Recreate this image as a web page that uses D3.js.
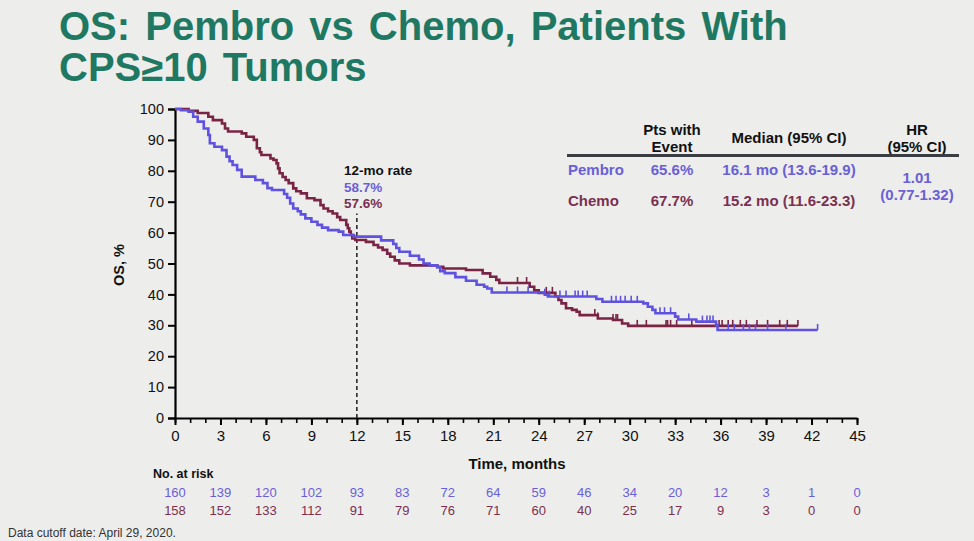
<!DOCTYPE html>
<html><head><meta charset="utf-8">
<script src="https://cdn.jsdelivr.net/npm/d3@7/dist/d3.min.js"></script>
<style>
html,body{margin:0;padding:0;background:#ededeb;}
svg{display:block;font-family:"Liberation Sans",Arial,sans-serif;}
</style></head>
<body>
<svg id="c" width="974" height="541"></svg>
<script>
// ---- data ----
const pembroTime = [0,0.4,0.9,1.2,1.5,1.9,2.2,2.3,2.6,3.1,3.4,3.6,3.8,4.1,4.4,5.3,5.8,6.1,6.4,7.2,7.4,7.6,7.8,8.1,8.3,8.6,9.0,9.4,9.7,10.1,10.8,11.1,11.8,13.6,14.4,14.6,14.8,15.5,16.1,16.4,16.8,17.3,17.5,17.8,18.5,19.2,19.9,20.4,20.6,20.9,24.4,24.6,27.8,28.2,30.9,31.2,31.5,31.7,33.0,33.2,34.4,35.7,35.8,42.4];
const pembroSurv = [100,99.6,99.1,97.5,95.9,93.7,91.6,88.9,87.8,86.7,84.6,83.1,81.9,80.3,78.1,77.0,76.0,74.4,73.8,72.5,71.3,69.4,67.8,66.9,65.9,64.6,63.5,62.5,61.6,60.8,60.3,59.2,58.7,57.5,56.3,55.0,53.8,52.5,51.3,50.0,49.4,48.8,47.5,46.9,45.6,44.4,43.1,42.5,41.9,40.6,39.9,39.3,38.5,37.6,37.1,36.0,35.0,33.9,32.8,31.9,31.2,30.1,28.5,28.5];
const chemoTime = [0,0.9,1.5,2.2,2.5,3.1,3.3,3.5,4.4,4.7,5.2,5.4,5.6,5.7,6.3,6.5,6.7,6.8,6.9,7.1,7.3,7.5,7.8,8.0,8.3,8.7,9.2,9.6,9.8,10.1,10.4,10.7,10.9,11.3,11.4,11.5,11.6,11.7,11.9,12.6,13.1,13.4,13.7,14.0,14.2,14.5,14.8,15.5,17.3,17.7,19.2,20.3,20.8,21.2,21.4,23.4,23.7,24.0,25.1,25.3,25.5,25.8,26.2,26.5,26.7,27.9,28.9,29.5,29.9,41.1];
const chemoSurv = [100,99.4,98.7,97.5,96.4,95.3,93.7,92.7,92.1,91.0,90.0,87.3,86.0,85.1,84.0,83.5,82.4,80.8,79.2,78.0,77.0,76.0,74.3,73.4,72.7,71.1,70.5,68.9,67.8,66.9,66.2,65.0,64.1,62.5,61.4,60.3,59.2,58.1,57.6,57.0,56.0,55.2,54.4,53.2,52.2,51.0,50.0,49.4,48.9,48.4,47.9,46.8,45.7,44.7,43.7,42.5,41.3,40.5,39.3,38.2,37.1,35.5,35.0,34.4,33.3,32.2,31.7,30.6,29.8,29.8];
const pembroCensor = [21.9,22.6,23.3,24.4,24.7,25.4,25.8,26.4,26.6,26.9,27.2,28.8,29.1,29.4,29.7,30.1,30.5,32.0,32.3,32.7,33.9,34.8,35.1,35.3,35.5,36.5,36.9,37.5,37.9,38.3,39.1,40.3,42.4];
const chemoCensor = [22.6,23.2,24.5,24.9,27.7,27.9,28.9,29.1,29.2,30.5,31.1,32.4,32.5,32.7,33.1,34.1,35.9,36.1,36.5,36.8,37.3,37.7,38.4,39.1,39.9,40.4,41.1];
const xTicks = [0,3,6,9,12,15,18,21,24,27,30,33,36,39,42,45];
const yTicks = [0,10,20,30,40,50,60,70,80,90,100];
const pembroAtRisk = [160,139,120,102,93,83,72,64,59,46,34,20,12,3,1,0];
const chemoAtRisk = [158,152,133,112,91,79,76,71,60,40,25,17,9,3,0,0];
const rateLabels = ["12-mo rate","58.7%","57.6%"];
const tableHead = [["Pts with","Event"],["Median (95% CI)"],["HR","(95% CI)"]];
const arms = ["Pembro","Chemo"];
const ptsEvent = ["65.6%","67.7%"];
const medians = ["16.1 mo (13.6-19.9)","15.2 mo (11.6-23.3)"];
const hrText = ["1.01","(0.77-1.32)"];

const BLUE = "#5f52e0", MAROON = "#7a2445", GREEN = "#1f7862";
const BLUE_T = "#6a60d6", MAROON_T = "#7a3050";

const svg = d3.select("#c");
const x = d3.scaleLinear().domain([0,45]).range([175,857]);
const y = d3.scaleLinear().domain([0,100]).range([418,109]);

// title
const tt = svg.append("g").attr("fill",GREEN).attr("font-weight","bold").attr("font-size",40).attr("word-spacing",4);
tt.append("text").attr("x",59).attr("y",40).text("OS: Pembro vs Chemo, Patients With");
tt.append("text").attr("x",59).attr("y",81).text("CPS\u226510 Tumors");

// axes
const ya = svg.append("g").attr("transform","translate(175,0)")
  .call(d3.axisLeft(y).tickValues(yTicks).tickSize(7).tickPadding(4));
ya.select(".domain").attr("stroke","#000").attr("stroke-width",2.2);
ya.selectAll(".tick line").attr("stroke","#000").attr("stroke-width",2);
ya.selectAll(".tick text").attr("font-size",14.5).attr("fill","#111").attr("font-family","Liberation Sans, Arial");

const xMinor = d3.range(0,46,1);
const xm = svg.append("g").attr("transform","translate(0,418)")
  .call(d3.axisBottom(x).tickValues(xMinor).tickSize(5).tickFormat(""));
xm.select(".domain").remove();
xm.selectAll(".tick line").attr("stroke","#000").attr("stroke-width",1.6);
const xa = svg.append("g").attr("transform","translate(0,418)")
  .call(d3.axisBottom(x).tickValues(xTicks).tickSize(7).tickPadding(5).tickSizeOuter(0));
xa.select(".domain").attr("stroke","#000").attr("stroke-width",2.2);
xa.selectAll(".tick line").attr("stroke","#000").attr("stroke-width",2);
xa.selectAll(".tick text").attr("font-size",15).attr("fill","#111").attr("font-family","Liberation Sans, Arial");

svg.append("text").attr("transform","translate(124,265) rotate(-90)").attr("text-anchor","middle")
  .attr("font-weight","bold").attr("font-size",14.5).attr("fill","#111").text("OS, %");
svg.append("text").attr("x",517).attr("y",469).attr("text-anchor","middle")
  .attr("font-weight","bold").attr("font-size",15).attr("fill","#111").text("Time, months");

// 12-mo dashed line
svg.append("line").attr("x1",x(12)).attr("x2",x(12)).attr("y1",y(0)).attr("y2",y(66.2))
  .attr("stroke","#111").attr("stroke-width",1.4).attr("stroke-dasharray","4,3");
const rl = svg.append("g").attr("font-weight","bold").attr("font-size",13.5);
rl.append("text").attr("x",344).attr("y",175).attr("fill","#111").text(rateLabels[0]);
rl.append("text").attr("x",344).attr("y",192).attr("fill",BLUE_T).text(rateLabels[1]);
rl.append("text").attr("x",344).attr("y",208).attr("fill",MAROON_T).text(rateLabels[2]);

// curves
const line = d3.line().x(d=>x(d[0])).y(d=>y(d[1])).curve(d3.curveStepAfter);
function survAt(times, surv, t){let v=surv[0];for(let i=0;i<times.length;i++){if(times[i]<=t)v=surv[i];}return v;}
function drawArm(times, surv, cens, col){
  const pts = times.map((t,i)=>[t,surv[i]]);
  svg.append("path").datum(pts).attr("d",line).attr("fill","none").attr("stroke",col).attr("stroke-width",2.6);
  svg.append("g").selectAll("line").data(cens).join("line")
    .attr("x1",d=>x(d)).attr("x2",d=>x(d))
    .attr("y1",d=>y(survAt(times,surv,d))).attr("y2",d=>y(survAt(times,surv,d))-6)
    .attr("stroke",col).attr("stroke-width",1.6);
}
drawArm(chemoTime, chemoSurv, chemoCensor, MAROON);
drawArm(pembroTime, pembroSurv, pembroCensor, BLUE);

// table
const tb = svg.append("g").attr("font-weight","bold").attr("font-size",15);
const colX = [672,789,917];
tableHead.forEach((h,i)=>{
  if(h.length===2){
    tb.append("text").attr("x",colX[i]).attr("y",135).attr("text-anchor","middle").attr("fill","#111").text(h[0]);
    tb.append("text").attr("x",colX[i]).attr("y",152).attr("text-anchor","middle").attr("fill","#111").text(h[1]);
  } else {
    tb.append("text").attr("x",colX[i]).attr("y",143).attr("text-anchor","middle").attr("fill","#111").text(h[0]);
  }
});
svg.append("line").attr("x1",567).attr("x2",959).attr("y1",155.5).attr("y2",155.5).attr("stroke","#3a3d42").attr("stroke-width",3);
const rowY = [175,206], rowCol=[BLUE_T,MAROON_T];
arms.forEach((a,i)=>{
  tb.append("text").attr("x",568).attr("y",rowY[i]).attr("fill",rowCol[i]).text(a);
  tb.append("text").attr("x",colX[0]).attr("y",rowY[i]).attr("text-anchor","middle").attr("fill",rowCol[i]).text(ptsEvent[i]);
  tb.append("text").attr("x",colX[1]).attr("y",rowY[i]).attr("text-anchor","middle").attr("fill",rowCol[i]).text(medians[i]);
});
tb.append("text").attr("x",colX[2]).attr("y",183).attr("text-anchor","middle").attr("fill",BLUE_T).text(hrText[0]);
tb.append("text").attr("x",colX[2]).attr("y",200).attr("text-anchor","middle").attr("fill",BLUE_T).text(hrText[1]);

// at risk
svg.append("text").attr("x",153).attr("y",478).attr("font-weight","bold").attr("font-size",12.5).attr("fill","#111").text("No. at risk");
const ar = svg.append("g").attr("font-size",13).attr("text-anchor","middle");
ar.selectAll("text.p").data(pembroAtRisk).join("text").attr("class","p")
  .attr("x",(d,i)=>x(xTicks[i])).attr("y",497).attr("fill",BLUE_T).text(d=>d);
ar.selectAll("text.c").data(chemoAtRisk).join("text").attr("class","c")
  .attr("x",(d,i)=>x(xTicks[i])).attr("y",515).attr("fill",MAROON_T).text(d=>d);

svg.append("text").attr("x",8).attr("y",537).attr("font-size",12).attr("fill","#333").text("Data cutoff date: April 29, 2020.");
</script>
</body></html>
